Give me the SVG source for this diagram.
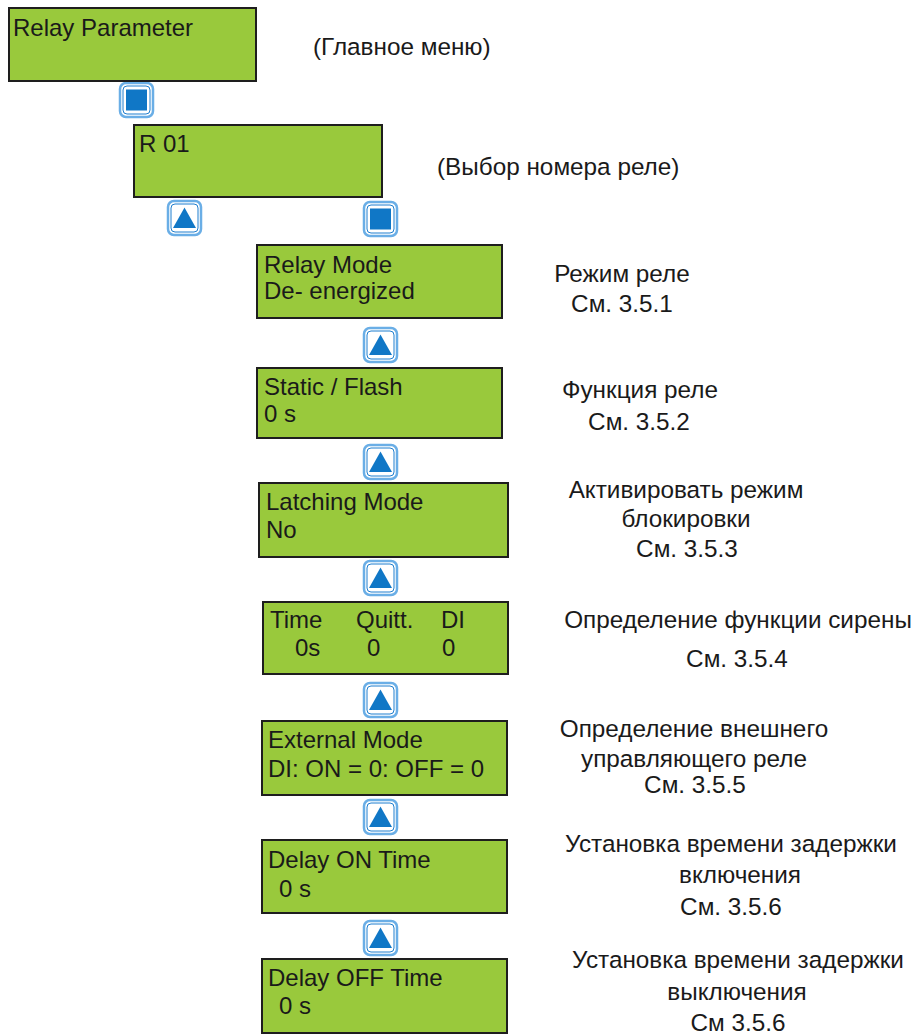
<svg xmlns="http://www.w3.org/2000/svg" xmlns:xlink="http://www.w3.org/1999/xlink" width="913" height="1036" viewBox="0 0 913 1036">
<style>
.box{fill:#99c93c;stroke:#1e1e1e;stroke-width:2}
.bt{font-family:"Liberation Sans",Arial,sans-serif;font-size:24px;fill:#1a1a1a}
.lb{font-family:"Liberation Sans",Arial,sans-serif;font-size:24.3px;fill:#1a1a1a;text-anchor:middle}
.lbs{font-family:"Liberation Sans",Arial,sans-serif;font-size:24.3px;fill:#1a1a1a}
.bo{fill:#fff;stroke:#6aaee6;stroke-width:2.5}
.bi{fill:none;stroke:#1f7fcf;stroke-width:1}
.ic{fill:#1077c6}
</style>
<defs>
<g id="btnUp">
<rect class="bo" x="0" y="0" width="33" height="34" rx="6"/>
<rect class="bi" x="3" y="3" width="27" height="28" rx="4"/>
<polygon class="ic" points="16.5,6.5 28,27 5,27"/>
</g>
<g id="btnSq">
<rect class="bo" x="0" y="0" width="33" height="34" rx="6"/>
<rect class="bi" x="3" y="3" width="27" height="28" rx="4"/>
<rect class="ic" x="6" y="6.5" width="21" height="21"/>
</g>
</defs>
<rect width="913" height="1036" fill="#fff"/>
<g id="connectors">
<use xlink:href="#btnSq" x="120" y="83"/>
<use xlink:href="#btnUp" x="168" y="201"/>
<use xlink:href="#btnSq" x="364" y="202"/>
<use xlink:href="#btnUp" x="364" y="328"/>
<use xlink:href="#btnUp" x="364" y="445"/>
<use xlink:href="#btnUp" x="364" y="561"/>
<use xlink:href="#btnUp" x="364" y="683"/>
<use xlink:href="#btnUp" x="364" y="800"/>
<use xlink:href="#btnUp" x="364" y="921"/>
</g>
<g id="node-main">
<rect class="box" x="9" y="8" width="247" height="73"/>
<text class="bt" x="13" y="36">Relay Parameter</text>
<text class="lbs" x="313" y="55">(Главное меню)</text>
</g>
<g id="node-r01">
<rect class="box" x="134" y="125" width="248" height="72"/>
<text class="bt" x="139" y="152">R 01</text>
<text class="lbs" x="437" y="175">(Выбор номера реле)</text>
</g>
<g id="node-relaymode">
<rect class="box" x="257" y="245" width="245" height="73"/>
<text class="bt" x="264" y="273">Relay Mode</text>
<text class="bt" x="264" y="299">De- energized</text>
<text class="lb" x="622" y="282">Режим реле</text>
<text class="lb" x="622" y="312">См. 3.5.1</text>
</g>
<g id="node-static">
<rect class="box" x="257" y="368" width="245" height="70"/>
<text class="bt" x="264" y="395">Static / Flash</text>
<text class="bt" x="264" y="422">0 s</text>
<text class="lb" x="640" y="398">Функция реле</text>
<text class="lb" x="639" y="430">См. 3.5.2</text>
</g>
<g id="node-latching">
<rect class="box" x="259" y="483" width="249" height="74"/>
<text class="bt" x="266" y="510">Latching Mode</text>
<text class="bt" x="266" y="538">No</text>
<text class="lb" x="686" y="498">Активировать режим</text>
<text class="lb" x="686" y="527">блокировки</text>
<text class="lb" x="687" y="557">См. 3.5.3</text>
</g>
<g id="node-siren">
<rect class="box" x="263" y="602" width="245" height="72"/>
<text class="bt" x="270" y="628">Time</text>
<text class="bt" x="356" y="628">Quitt.</text>
<text class="bt" x="441" y="628">DI</text>
<text class="bt" x="295" y="656">0s</text>
<text class="bt" x="367" y="656">0</text>
<text class="bt" x="442" y="656">0</text>
<text class="lb" x="738" y="628">Определение функции сирены</text>
<text class="lb" x="737" y="667">См. 3.5.4</text>
</g>
<g id="node-external">
<rect class="box" x="262" y="721" width="245" height="74"/>
<text class="bt" x="268" y="748">External Mode</text>
<text class="bt" x="268" y="777">DI: ON = 0: OFF = 0</text>
<text class="lb" x="694" y="737">Определение внешнего</text>
<text class="lb" x="694" y="767">управляющего реле</text>
<text class="lb" x="695" y="793">См. 3.5.5</text>
</g>
<g id="node-delayon">
<rect class="box" x="262" y="840" width="245" height="73"/>
<text class="bt" x="268" y="868">Delay ON Time</text>
<text class="bt" x="279" y="897">0 s</text>
<text class="lb" x="731" y="852">Установка времени задержки</text>
<text class="lb" x="740" y="883">включения</text>
<text class="lb" x="731" y="915">См. 3.5.6</text>
</g>
<g id="node-delayoff">
<rect class="box" x="262" y="959" width="245" height="74"/>
<text class="bt" x="268" y="986">Delay OFF Time</text>
<text class="bt" x="279" y="1014">0 s</text>
<text class="lb" x="738" y="968">Установка времени задержки</text>
<text class="lb" x="737" y="1000">выключения</text>
<text class="lb" x="738" y="1031">См 3.5.6</text>
</g>
</svg>
